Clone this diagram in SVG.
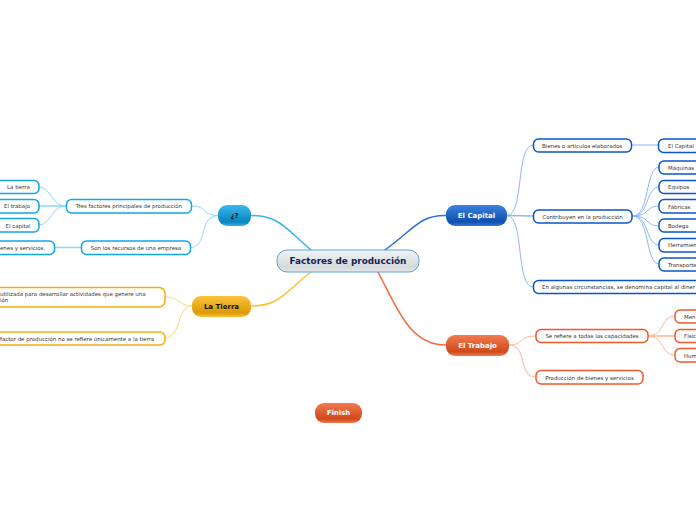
<svg xmlns="http://www.w3.org/2000/svg" width="696" height="520" viewBox="0 0 696 520">
<style>
text{font-family:"DejaVu Sans",Verdana,sans-serif;text-anchor:middle}
.s{font-size:5.450px;fill:#333}
.sl{font-size:5.450px;fill:#333;text-anchor:start}
.m{font-size:7px;font-weight:bold;fill:#fff}
.k{fill:#111}
.c{fill:#fff;stroke-width:1.500}
.bb{stroke:#0a55c8}.bc{stroke:#12a7e6}.by{stroke:#f5ae10}.br{stroke:#ee5a2c}
#connectors path{fill:none;stroke-linecap:round}
.lb{stroke:#8db8f2}.lc{stroke:#8fd8f7}.ly{stroke:#fbd77e}.lr{stroke:#fdb49b}
</style>
<defs>
<linearGradient id="gc" x1="0" y1="0" x2="0" y2="1"><stop offset="0" stop-color="#f2f5f6"/><stop offset=".75" stop-color="#d3d9dc"/><stop offset="1" stop-color="#e4e8ea"/></linearGradient>
<linearGradient id="gb" x1="0" y1="0" x2="0" y2="1"><stop offset="0" stop-color="#3c82e0"/><stop offset=".8" stop-color="#0e4fb0"/><stop offset="1" stop-color="#3a78d2"/></linearGradient>
<linearGradient id="gq" x1="0" y1="0" x2="0" y2="1"><stop offset="0" stop-color="#3cb8ee"/><stop offset=".8" stop-color="#0a84bf"/><stop offset="1" stop-color="#3cb0e0"/></linearGradient>
<linearGradient id="gy" x1="0" y1="0" x2="0" y2="1"><stop offset="0" stop-color="#fbc43c"/><stop offset=".8" stop-color="#dc9a08"/><stop offset="1" stop-color="#f7c040"/></linearGradient>
<linearGradient id="gr" x1="0" y1="0" x2="0" y2="1"><stop offset="0" stop-color="#f47a50"/><stop offset=".8" stop-color="#ce4a1c"/><stop offset="1" stop-color="#ee7a50"/></linearGradient>
</defs>
<g id="connectors">
<path d="M385 250C415 228 420 215 446 215.500" stroke="#2a6fd8" stroke-width="1.500"/>
<path d="M311 250C285 228 280 216 251 215.500" stroke="#35b5ec" stroke-width="1.500"/>
<path d="M311 272C285 292 280 306 251 306" stroke="#fcc02e" stroke-width="1.500"/>
<path d="M378 272C398 310 410 345 446 345" stroke="#f26a3e" stroke-width="1.500"/>
<g class="lb" stroke-width="1">
<path d="M507 215.500C525 215 515 145 533 145"/>
<path d="M507 215.500L533 216" stroke-width="1.500"/>
<path d="M507 215.500C525 216 515 287 533 287"/>
<path d="M632 145H658"/>
<path d="M633 216C650 216 645 167 659 167"/>
<path d="M633 216C650 216 645 187 659 187"/>
<path d="M633 216C650 216 645 206 659 206"/>
<path d="M633 216C650 216 645 226 659 226"/>
<path d="M633 216C650 216 645 245 659 245"/>
<path d="M633 216C650 216 645 264 659 264"/>
</g>
<g class="lc" stroke-width="1">
<path d="M218 215.500C200 215 208 206 192 206"/>
<path d="M218 215.500C198 216 208 247.500 191 247.500"/>
<path d="M66 206C50 206 52 187 39 187"/>
<path d="M66 206H39" stroke-width="1.500"/>
<path d="M66 206C50 206 52 225 39 225"/>
<path d="M81 247.500H54" stroke-width="1.500"/>
</g>
<g class="ly" stroke-width="1">
<path d="M192 306C178 306 180 297 165 297"/>
<path d="M192 306C176 306 182 338 165 338"/>
</g>
<g class="lr" stroke-width="1">
<path d="M509 345C525 345 518 336 535 336"/>
<path d="M509 345C528 345 518 377 535 377"/>
<path d="M648 336C665 336 660 316 675 316"/>
<path d="M648 336H675" stroke-width="1.500"/>
<path d="M648 336C665 336 660 355 675 355"/>
</g>
</g>
<g id="center"><rect x="277" y="250" width="142" height="22" rx="10" fill="url(#gc)" stroke="#5aa5d8" stroke-width="1"/><text x="348" y="264" font-size="8.900" font-weight="bold" fill="#14214f">Factores de producción</text></g>
<g id="capital"><rect x="446" y="205" width="61" height="21" rx="9" fill="url(#gb)"/><text class="m" x="476.500" y="218">El Capital</text></g>
<g id="q"><rect x="218" y="205" width="33" height="21" rx="9" fill="url(#gq)"/><text class="m k" x="234.500" y="218">¿?</text></g>
<g id="tierra"><rect x="192" y="296" width="59" height="21" rx="9" fill="url(#gy)"/><text class="m k" x="221.500" y="309">La Tierra</text></g>
<g id="trabajo"><rect x="446" y="335" width="63" height="21" rx="9" fill="url(#gr)"/><text class="m" x="477.500" y="348">El Trabajo</text></g>
<g id="finish"><rect x="315" y="403" width="47" height="20" rx="9" fill="url(#gr)"/><text class="m" x="338.500" y="415">Finish</text></g>
<g id="tres"><rect class="c bc" x="66.500" y="199.500" width="125" height="13.500" rx="5"/><text class="s" x="129" y="208">Tres factores principales de producción</text></g>
<g id="son"><rect class="c bc" x="81.500" y="241" width="109" height="13.500" rx="5"/><text class="s" x="136" y="250">Son los recursos de una empresa</text></g>
<g id="latierra"><rect class="c bc" x="-6" y="180.500" width="45" height="13" rx="5"/><text class="s" x="18.500" y="189">La tierra</text></g>
<g id="eltrabajo"><rect class="c bc" x="-6" y="199.500" width="45" height="13.500" rx="5"/><text class="s" x="17" y="208">El trabajo</text></g>
<g id="elcapital"><rect class="c bc" x="-6" y="218.500" width="45" height="13.500" rx="5"/><text class="s" x="18" y="228">El capital</text></g>
<g id="bienes"><rect class="c bc" x="-6" y="241" width="60.500" height="13.500" rx="5"/><text class="sl" x="0" y="250">enes y servicios.</text></g>
<g id="utilizada"><rect class="c by" x="-6" y="287.500" width="171" height="19.500" rx="6"/><text class="sl" x="0" y="296">utilizada para desarrollar actividades que genere una</text><text class="sl" x="0" y="302">ión</text></g>
<g id="factor"><rect class="c by" x="-6" y="332" width="171" height="13" rx="5"/><text class="sl" x="0" y="340.500">factor de producción no se refiere únicamente a la tierra</text></g>
<g id="articulos"><rect class="c bb" x="533.500" y="139" width="98" height="13" rx="5"/><text class="s" x="582" y="147.500">Bienes o artículos elaborados</text></g>
<g id="ecap"><rect class="c bb" x="658.500" y="139" width="45" height="13.500" rx="5"/><text class="sl" x="668" y="148">El Capital</text></g>
<g id="contribuyen"><rect class="c bb" x="533.500" y="210" width="98.500" height="13" rx="5"/><text class="s" x="582.500" y="218.500">Contribuyen en la producción</text></g>
<g id="maquinas"><rect class="c bb" x="659" y="161" width="45" height="13" rx="5"/><text class="sl" x="668" y="170">Máquinas</text></g>
<g id="equipos"><rect class="c bb" x="659" y="180.500" width="45" height="13" rx="5"/><text class="sl" x="668" y="189">Equipos</text></g>
<g id="fabricas"><rect class="c bb" x="659" y="199.500" width="45" height="13.500" rx="5"/><text class="sl" x="668" y="208.500">Fábricas</text></g>
<g id="bodega"><rect class="c bb" x="659" y="219" width="45" height="13" rx="5"/><text class="sl" x="668" y="228">Bodega</text></g>
<g id="herramientas"><rect class="c bb" x="659" y="238.500" width="45" height="13.500" rx="5"/><text class="sl" x="668" y="247">Herramien</text></g>
<g id="transporte"><rect class="c bb" x="659" y="258" width="45" height="13" rx="5"/><text class="sl" x="668" y="267">Transporte</text></g>
<g id="algunas"><rect class="c bb" x="533.500" y="280.500" width="170" height="13" rx="5"/><text class="sl" x="542" y="289" textLength="153">En algunas circunstancias, se denomina capital al diner</text></g>
<g id="serefiere"><rect class="c br" x="536" y="329.500" width="112" height="13" rx="5"/><text class="s" x="592" y="338">Se refiere a todas las capacidades</text></g>
<g id="produccion"><rect class="c br" x="536" y="370.500" width="107" height="13.500" rx="5"/><text class="s" x="589.500" y="379.500">Producción de bienes y servicios</text></g>
<g id="mental"><rect class="c br" x="675" y="310" width="30" height="13" rx="5"/><text class="sl" x="684" y="319">Men</text></g>
<g id="fisica"><rect class="c br" x="675" y="329.500" width="30" height="13" rx="5"/><text class="sl" x="684" y="338">Físic</text></g>
<g id="humana"><rect class="c br" x="675" y="348.500" width="30" height="13.500" rx="5"/><text class="sl" x="684" y="358">Hum</text></g>
</svg>
